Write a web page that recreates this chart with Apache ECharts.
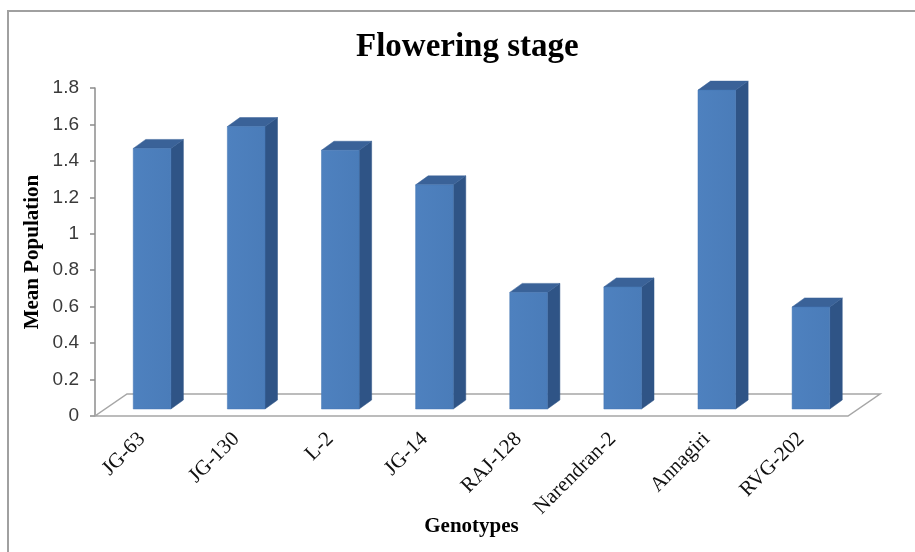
<!DOCTYPE html>
<html>
<head>
<meta charset="utf-8">
<script src="https://cdn.jsdelivr.net/npm/echarts@6/dist/echarts.min.js"></script>
<style>
  html, body { margin: 0; padding: 0; background: #fff; }
  #chart { width: 915px; height: 552px; }
</style>
</head>
<body>
<div id="chart"></div>
<script>
// Mean population of each genotype at the flowering stage
const genotypes = ['JG-63', 'JG-130', 'L-2', 'JG-14', 'RAJ-128', 'Narendran-2', 'Annagiri', 'RVG-202'];
const meanPopulation = [1.43, 1.55, 1.42, 1.23, 0.64, 0.67, 1.75, 0.56];
const yTicks = [0, 0.2, 0.4, 0.6, 0.8, 1, 1.2, 1.4, 1.6, 1.8];

const serif = '"Liberation Serif", "Times New Roman", serif';
const sans = '"Liberation Sans", Arial, sans-serif';

// oblique depth of the floor and of each column
const FLOOR_DX = 32, FLOOR_DY = -22;
const BAR_OFF_X = 10, BAR_OFF_Y = -7;
const BAR_DX = 12.5, BAR_DY = -9;

const chart = echarts.init(document.getElementById('chart'), null, { renderer: 'canvas' });

function renderFloor(params, api) {
  const cs = params.coordSys;
  const x0 = cs.x, x1 = cs.x + cs.width, y0 = cs.y + cs.height;
  return {
    type: 'polygon',
    shape: {
      points: [
        [x0, y0], [x1, y0],
        [x1 + FLOOR_DX, y0 + FLOOR_DY],
        [x0 + FLOOR_DX, y0 + FLOOR_DY]
      ]
    },
    style: { fill: '#ffffff', stroke: '#a6a6a6', lineWidth: 1.5 },
    silent: true
  };
}

function renderColumn(params, api) {
  const idx = api.value(0);
  const val = api.value(1);
  const base = api.coord([idx, 0]);
  const top = api.coord([idx, val]);
  const bw = api.size([1, 0])[0] * 0.4;
  const x0 = base[0] - bw / 2 + BAR_OFF_X;
  const x1 = x0 + bw;
  const yb = base[1] + BAR_OFF_Y;
  const yt = top[1] + BAR_OFF_Y;
  return {
    type: 'group',
    children: [
      {
        type: 'polygon',
        shape: { points: [[x1, yb], [x1, yt], [x1 + BAR_DX, yt + BAR_DY], [x1 + BAR_DX, yb + BAR_DY]] },
        style: { fill: '#2f5486', stroke: '#2f5486', lineWidth: 0.5 }
      },
      {
        type: 'polygon',
        shape: { points: [[x0, yt], [x1, yt], [x1 + BAR_DX, yt + BAR_DY], [x0 + BAR_DX, yt + BAR_DY]] },
        style: { fill: '#3a6298', stroke: '#3a6298', lineWidth: 0.5 }
      },
      {
        type: 'rect',
        shape: { x: x0, y: yt, width: bw, height: yb - yt },
        style: {
          fill: new echarts.graphic.LinearGradient(0, 0, 1, 0, [
            { offset: 0, color: '#4e81bf' },
            { offset: 1, color: '#4a7cb9' }
          ]),
          stroke: '#4477b4', lineWidth: 0.5
        }
      }
    ]
  };
}

const option = {
  backgroundColor: '#ffffff',
  animation: false,
  title: {
    text: 'Flowering stage',
    left: 351,
    top: 26,
    textStyle: { fontFamily: serif, fontWeight: 'bold', fontSize: 33, color: '#000' }
  },
  grid: { left: 95, right: 67, top: 88, bottom: 136, containLabel: false },
  xAxis: {
    type: 'category',
    data: genotypes,
    name: 'Genotypes',
    nameLocation: 'middle',
    nameGap: 100,
    nameMoveOverlap: false,
    nameTextStyle: { fontFamily: serif, fontWeight: 'bold', fontSize: 21, color: '#000' },
    axisLine: { show: false },
    axisTick: { show: false },
    axisLabel: {
      rotate: 45,
      margin: 20,
      interval: 0,
      fontFamily: serif,
      fontSize: 21,
      color: '#111'
    }
  },
  yAxis: {
    type: 'value',
    min: 0,
    max: 1.8,
    interval: 0.2,
    name: 'Mean Population',
    nameLocation: 'middle',
    nameRotate: 90,
    nameGap: 52,
    nameMoveOverlap: false,
    nameTextStyle: { fontFamily: serif, fontWeight: 'bold', fontSize: 21, color: '#000' },
    axisLine: { show: true, lineStyle: { color: '#8c8c8c', width: 1.5 } },
    axisTick: { show: true, inside: false, length: 5, lineStyle: { color: '#8c8c8c', width: 1.5 } },
    splitLine: { show: false },
    axisLabel: {
      margin: 16,
      fontFamily: sans,
      fontSize: 19,
      color: '#3a3a3a',
      formatter: function (v) {
        const t = yTicks.find(function (k) { return Math.abs(k - v) < 1e-9; });
        return t === undefined ? '' : String(t);
      }
    }
  },
  graphic: [
    {
      type: 'rect',
      shape: { x: 8, y: 11, width: 940, height: 600 },
      style: { fill: 'none', stroke: '#a0a0a0', lineWidth: 2 },
      silent: true,
      z: -10
    }
  ],
  series: [
    {
      type: 'custom',
      name: 'floor',
      renderItem: renderFloor,
      data: [[0, 0]],
      encode: { x: 0, y: 1 },
      z: 1,
      silent: true
    },
    {
      type: 'custom',
      name: 'Mean Population',
      renderItem: renderColumn,
      data: meanPopulation.map(function (v, i) { return [i, v]; }),
      encode: { x: 0, y: 1 },
      z: 3
    }
  ]
};

chart.setOption(option);
</script>
</body>
</html>
